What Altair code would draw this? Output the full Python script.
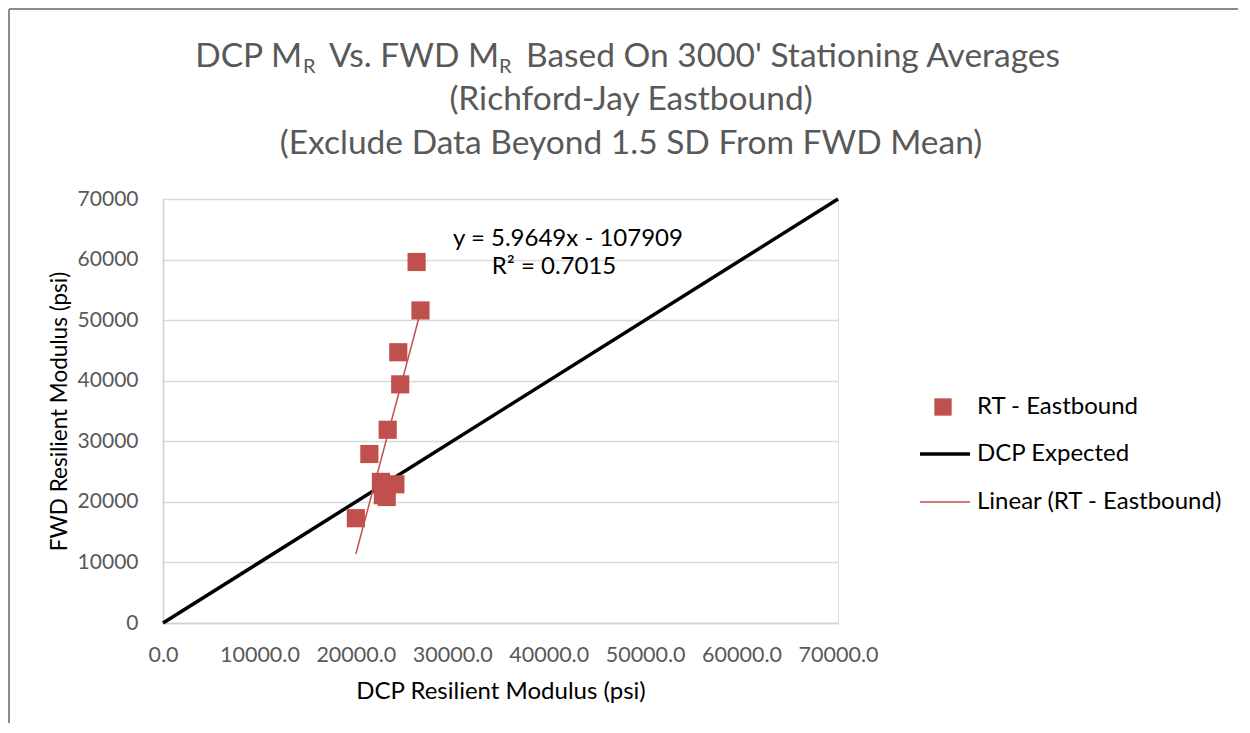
import altair as alt
import pandas as pd

# ---- data ----
dcp_mr = [26300, 26700, 24400, 24600, 23300, 21400, 22600, 24100, 22800, 23200, 20000]
fwd_mr = [59600, 51600, 44700, 39400, 31900, 27900, 23300, 22900, 21100, 20800, 17300]
expected_x = [0, 70000]
expected_y = [0, 70000]
slope = 5.9649
intercept = -107909
r2 = 0.7015
y_ticks = [0, 10000, 20000, 30000, 40000, 50000, 60000, 70000]
x_ticks = [0, 10000, 20000, 30000, 40000, 50000, 60000, 70000]

RED = "#C0504D"
FONT = "Lato"
W, H = 675, 424

pts = pd.DataFrame({"x": dcp_mr, "y": fwd_mr})
exp_df = pd.DataFrame({"x": expected_x, "y": expected_y})
tx = [min(dcp_mr), max(dcp_mr)]
trend_df = pd.DataFrame({"x": tx, "y": [slope * v + intercept for v in tx]})

xs = alt.Scale(domain=[0, 70000], nice=False, zero=True)
ys = alt.Scale(domain=[0, 70000], nice=False, zero=True)

x_axis = alt.Axis(values=x_ticks, format=".1f", grid=False, ticks=False, tickSize=0,
                  domainColor="#D0D0D0", domainWidth=1.5, labelColor="#595959",
                  labelFont=FONT, labelFontSize=21.5, labelPadding=21,
                  labelOverlap=False, labelBound=False, labelFlush=False,
                  title="DCP Resilient Modulus (psi)", titleFont=FONT, titleFontSize=24,
                  titleFontWeight="normal", titleColor="#000000", titlePadding=14)
y_axis = alt.Axis(values=y_ticks, format="d", grid=True, gridColor="#D9D9D9", gridWidth=1.3,
                  ticks=False, tickSize=0, domainColor="#D0D0D0", domainWidth=1.5,
                  labelColor="#595959", labelFont=FONT, labelFontSize=21, labelPadding=25,
                  labelOverlap=False, labelBound=False, labelFlush=False,
                  title="FWD Resilient Modulus (psi)", titleFont=FONT, titleFontSize=22.5,
                  titleFontWeight="normal", titleColor="#000000", titlePadding=6)

base_x = alt.X("x:Q", scale=xs, axis=x_axis)
base_y = alt.Y("y:Q", scale=ys, axis=y_axis)

expected = alt.Chart(exp_df).mark_line(color="#000000", strokeWidth=3.5).encode(x=base_x, y=base_y)
trend = alt.Chart(trend_df).mark_line(color=RED, strokeWidth=1.5).encode(x="x:Q", y="y:Q")
points = alt.Chart(pts).mark_square(color=RED, opacity=1, size=330).encode(x="x:Q", y="y:Q")

eq_df = pd.DataFrame({"x": [42000, 40550], "y": [63400, 58700],
                      "t": [f"y = {slope}x - {abs(intercept)}", f"R² = {r2}"]})
eq = alt.Chart(eq_df).mark_text(font=FONT, fontSize=24, color="#000000", align="center",
                                baseline="middle").encode(x="x:Q", y="y:Q", text="t:N")

# ---- title built from text pieces (for the subscript R) ----
def txt(s, x, y, size, align="left", baseline="alphabetic", color="#595959"):
    return alt.Chart(pd.DataFrame({"t": [s]})).mark_text(
        font=FONT, fontSize=size, color=color, align=align, baseline=baseline
    ).encode(x=alt.value(x), y=alt.value(y), text="t:N")

TS = 33.5
title_layers = [
    txt("DCP M", 139, -132, TS, align="right"),
    txt("R", 140, -126, 20),
    txt("Vs. FWD M", 166, -132, TS),
    txt("R", 336, -126, 20),
    txt("Based On 3000' Stationing Averages", 363, -132, TS),
    txt("(Richford-Jay Eastbound)", 468, -89, TS, align="center"),
    txt("(Exclude Data Beyond 1.5 SD From FWD Mean)", 468, -45, TS, align="center"),
]

# ---- manual legend ----
leg_sq = alt.Chart(pd.DataFrame({"t": ["RT - Eastbound"]})).mark_square(
    color=RED, opacity=1, size=300).encode(x=alt.value(780), y=alt.value(208))
leg_l1 = alt.Chart(pd.DataFrame({"t": ["DCP Expected"]})).mark_rule(
    color="#000000", strokeWidth=3.5).encode(x=alt.value(757), x2=alt.value(807), y=alt.value(255))
leg_l2 = alt.Chart(pd.DataFrame({"t": ["Linear (RT - Eastbound)"]})).mark_rule(
    color=RED, strokeWidth=1.5).encode(x=alt.value(757), x2=alt.value(807), y=alt.value(303))
leg_texts = [
    txt("RT - Eastbound", 814, 208, 24, baseline="middle", color="#000000"),
    txt("DCP Expected", 814, 255, 24, baseline="middle", color="#000000"),
    txt("Linear (RT - Eastbound)", 814, 303, 24, baseline="middle", color="#000000"),
]

# ---- chart-area border (top and left edges) ----
border_top = alt.Chart(pd.DataFrame({"a": [0]})).mark_rule(color="#8C8C8C", strokeWidth=2).encode(
    x=alt.value(-154), x2=alt.value(1080), y=alt.value(-190))
border_left = alt.Chart(pd.DataFrame({"a": [0]})).mark_rule(color="#8C8C8C", strokeWidth=2).encode(
    x=alt.value(-154), y=alt.value(-190), y2=alt.value(530))

chart = alt.layer(
    expected, trend, points, eq, *title_layers, leg_sq, leg_l1, leg_l2, *leg_texts,
    border_top, border_left,
).properties(
    width=W, height=H,
    autosize=alt.AutoSizeParams(type="none"),
    padding={"left": 155, "top": 191, "right": 400, "bottom": 100},
).configure_view(stroke=None).configure(background="#FFFFFF")

chart.save("out.html", embed_options={"renderer": "svg", "actions": False})
